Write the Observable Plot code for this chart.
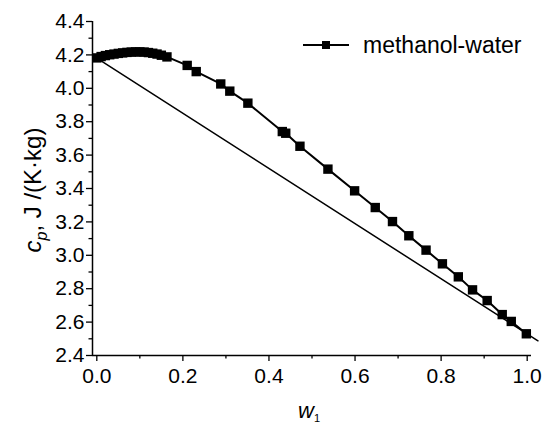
<!DOCTYPE html>
<html><head><meta charset="utf-8">
<script src="https://cdn.jsdelivr.net/npm/d3@7"></script>
<script src="https://cdn.jsdelivr.net/npm/@observablehq/plot@0.6"></script>
<style>body{margin:0;background:#fff;} svg{display:block;}</style>
</head><body><div id="chart"></div>
<script>
// measured mixture series
const w1 = [0, 0.01, 0.02, 0.03, 0.04, 0.05, 0.06, 0.07, 0.08, 0.09, 0.10, 0.11, 0.12, 0.13, 0.14, 0.15, 0.163,
            0.210, 0.231, 0.288, 0.309, 0.351, 0.431, 0.439, 0.472, 0.537, 0.599, 0.647, 0.687, 0.725,
            0.765, 0.803, 0.840, 0.873, 0.907, 0.942, 0.963, 0.998];
const cp = [4.182, 4.19, 4.196, 4.201, 4.205, 4.209, 4.212, 4.215, 4.217, 4.218, 4.218, 4.217, 4.214, 4.21, 4.205, 4.198, 4.188,
            4.137, 4.10, 4.026, 3.983, 3.911, 3.741, 3.731, 3.653, 3.516, 3.386, 3.286, 3.202, 3.117,
            3.031, 2.949, 2.871, 2.793, 2.729, 2.645, 2.604, 2.530];
// ideal (additive) line endpoints
const idealW = [0, 1.025];
const idealCp = [4.18, 2.488];
// ticks
const xMajor = [0, 0.2, 0.4, 0.6, 0.8, 1.0];
const xMinor = [0.1, 0.3, 0.5, 0.7, 0.9];
const yMajor = [2.4, 2.6, 2.8, 3.0, 3.2, 3.4, 3.6, 3.8, 4.0, 4.2, 4.4];
const yMinor = [2.5, 2.7, 2.9, 3.1, 3.3, 3.5, 3.7, 3.9, 4.1, 4.3];
const seriesName = "methanol-water";

const series = w1.map((w, i) => ({w, cp: cp[i]}));
const ideal = idealW.map((w, i) => ({w, cp: idealCp[i]}));

const FONT = "'Liberation Sans', Arial, sans-serif";
const fmt = d => d.toFixed(1);

const chart = Plot.plot({
  width: 549, height: 424,
  marginLeft: 92, marginRight: 18, marginTop: 21, marginBottom: 69,
  style: {fontFamily: FONT, background: "#fff", color: "#000"},
  x: {domain: [-0.01, 1.01]},
  y: {domain: [2.4, 4.4]},
  marks: [
    Plot.axisX(xMajor, {tickSize: 6, tickPadding: 7, tickFormat: fmt, fontSize: 21, label: null, strokeWidth: 1.3}),
    Plot.axisX(xMinor, {tickSize: 3.5, tickFormat: () => "", label: null, strokeWidth: 1.3}),
    Plot.axisY(yMajor, {tickSize: 6, tickPadding: 2, tickFormat: fmt, fontSize: 21, label: null, strokeWidth: 1.3}),
    Plot.axisY(yMinor, {tickSize: 3.5, tickFormat: () => "", label: null, strokeWidth: 1.3}),
    Plot.ruleY([2.4], {stroke: "#000", strokeWidth: 1.5}),
    Plot.ruleX([-0.01], {stroke: "#000", strokeWidth: 1.5}),
    Plot.line(ideal, {x: "w", y: "cp", stroke: "#000", strokeWidth: 1.5}),
    Plot.line(series, {x: "w", y: "cp", stroke: "#000", strokeWidth: 2}),
    Plot.dot(series, {x: "w", y: "cp", symbol: "square", r: 5.3, fill: "#000", stroke: "none"})
  ]
});
document.getElementById("chart").appendChild(chart);

const svg = d3.select(chart);
// y title
const yt = svg.append("text")
  .attr("transform", "translate(41,190) rotate(-90)")
  .attr("text-anchor", "middle")
  .attr("font-family", FONT).attr("font-size", 24).attr("fill", "#000");
yt.append("tspan").attr("font-style", "italic").text("c");
yt.append("tspan").attr("font-style", "italic").attr("font-size", 16).attr("dy", 6).text("p");
yt.append("tspan").attr("dy", -6).text(", J /(K·kg)");
// x title
const xt = svg.append("text")
  .attr("x", 309).attr("y", 418)
  .attr("text-anchor", "middle")
  .attr("font-family", FONT).attr("font-size", 22).attr("fill", "#000");
xt.append("tspan").attr("font-style", "italic").text("w");
xt.append("tspan").attr("font-size", 11).attr("dy", 4).text("1");
// legend
const lg = svg.append("g");
lg.append("line").attr("x1", 303).attr("x2", 349).attr("y1", 45).attr("y2", 45).attr("stroke", "#000").attr("stroke-width", 2);
lg.append("rect").attr("x", 322).attr("y", 41).attr("width", 8).attr("height", 8).attr("fill", "#000");
lg.append("text").attr("x", 363).attr("y", 45).attr("dy", "0.35em").attr("text-anchor", "start")
  .attr("font-family", FONT).attr("font-size", 23).attr("fill", "#000").text(seriesName);
</script>
</body></html>
